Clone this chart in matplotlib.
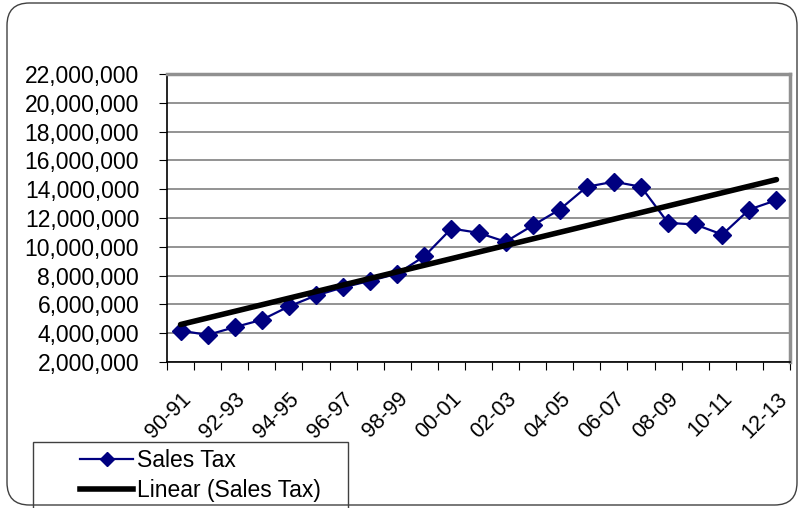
import numpy as np
import matplotlib.pyplot as plt
from matplotlib.patches import FancyBboxPatch, Rectangle
from matplotlib.lines import Line2D

plt.rcParams["font.family"] = ["Liberation Sans", "DejaVu Sans"]

# Data (fiscal years 1990-91 .. 2012-13)
years = ["90-91", "91-92", "92-93", "93-94", "94-95", "95-96", "96-97", "97-98",
         "98-99", "99-00", "00-01", "01-02", "02-03", "03-04", "04-05", "05-06",
         "06-07", "07-08", "08-09", "09-10", "10-11", "11-12", "12-13"]
sales_tax = [4180000, 3880000, 4420000, 4930000, 5860000, 6620000, 7180000, 7640000,
             8130000, 9340000, 11270000, 10970000, 10350000, 11480000, 12590000, 14170000,
             14520000, 14170000, 11660000, 11550000, 10850000, 12590000, 13240000]
y_ticks = list(range(2000000, 22000001, 2000000))

NAVY = "#000080"
FS = 16.5

fig = plt.figure(figsize=(8.01, 5.08), dpi=100)

# rounded chart border
border = FancyBboxPatch((7 / 801, 3 / 508), 790 / 801, 502 / 508,
                        boxstyle="round,pad=0,rounding_size=0.028",
                        transform=fig.transFigure, fill=False,
                        edgecolor="#404040", linewidth=1.0, mutation_aspect=801 / 508)
fig.patches.append(border)

ax = fig.add_axes([167 / 801, 1 - 362 / 508, (790 - 167) / 801, (362 - 74) / 508])

x = np.arange(len(years))
ax.plot(x, sales_tax, color=NAVY, linewidth=1.6, marker="D", markersize=9,
        label="Sales Tax", zorder=3)

# linear trendline
coef = np.polyfit(x, sales_tax, 1)
ax.plot(x, np.polyval(coef, x), color="black", linewidth=4, solid_capstyle="round",
        label="Linear (Sales Tax)", zorder=4)

ax.set_xlim(-0.5, len(years) - 0.5)
ax.set_ylim(2000000, 22000000)
ax.set_yticks(y_ticks)
ax.set_yticklabels([f"{v:,}" for v in y_ticks], fontsize=FS)
ax.yaxis.grid(True, color="#808080", linewidth=1.2)
ax.set_axisbelow(True)

# category boundary ticks + labels every other year
ax.set_xticks(np.arange(len(years) + 1) - 0.5)
ax.set_xticklabels([])
ax.set_xticks(x[::2], minor=True)
ax.set_xticklabels(years[::2], minor=True, rotation=45, ha="right",
                   rotation_mode="anchor", fontsize=15.5)
ax.tick_params(axis="x", which="minor", length=0, pad=19)
ax.tick_params(axis="x", which="major", length=6, direction="out", color="black")
ax.tick_params(axis="y", length=6, direction="out", color="black", pad=14)

for s in ["left", "bottom"]:
    ax.spines[s].set_color("black")
    ax.spines[s].set_linewidth(1.2)
for s in ["top", "right"]:
    ax.spines[s].set_color("#909090")
    ax.spines[s].set_linewidth(2.5)

# legend box (cut off by the bottom of the chart)
fig.patches.append(Rectangle((33 / 801, -0.02), (348 - 33) / 801, 0.02 + 1 - 442 / 508,
                             transform=fig.transFigure, fill=False,
                             edgecolor="#404040", linewidth=1.0))
handles = [Line2D([], [], color=NAVY, linewidth=1.6, marker="D", markersize=7),
           Line2D([], [], color="black", linewidth=4)]
fig.legend(handles, ["Sales Tax", "Linear (Sales Tax)"], loc="upper left",
           bbox_to_anchor=(71 / 801, 1 - 440 / 508), frameon=False, fontsize=FS,
           handlelength=2.3, handletextpad=0.2, labelspacing=0.3, borderaxespad=0)

fig.savefig("out.png", dpi=100)
